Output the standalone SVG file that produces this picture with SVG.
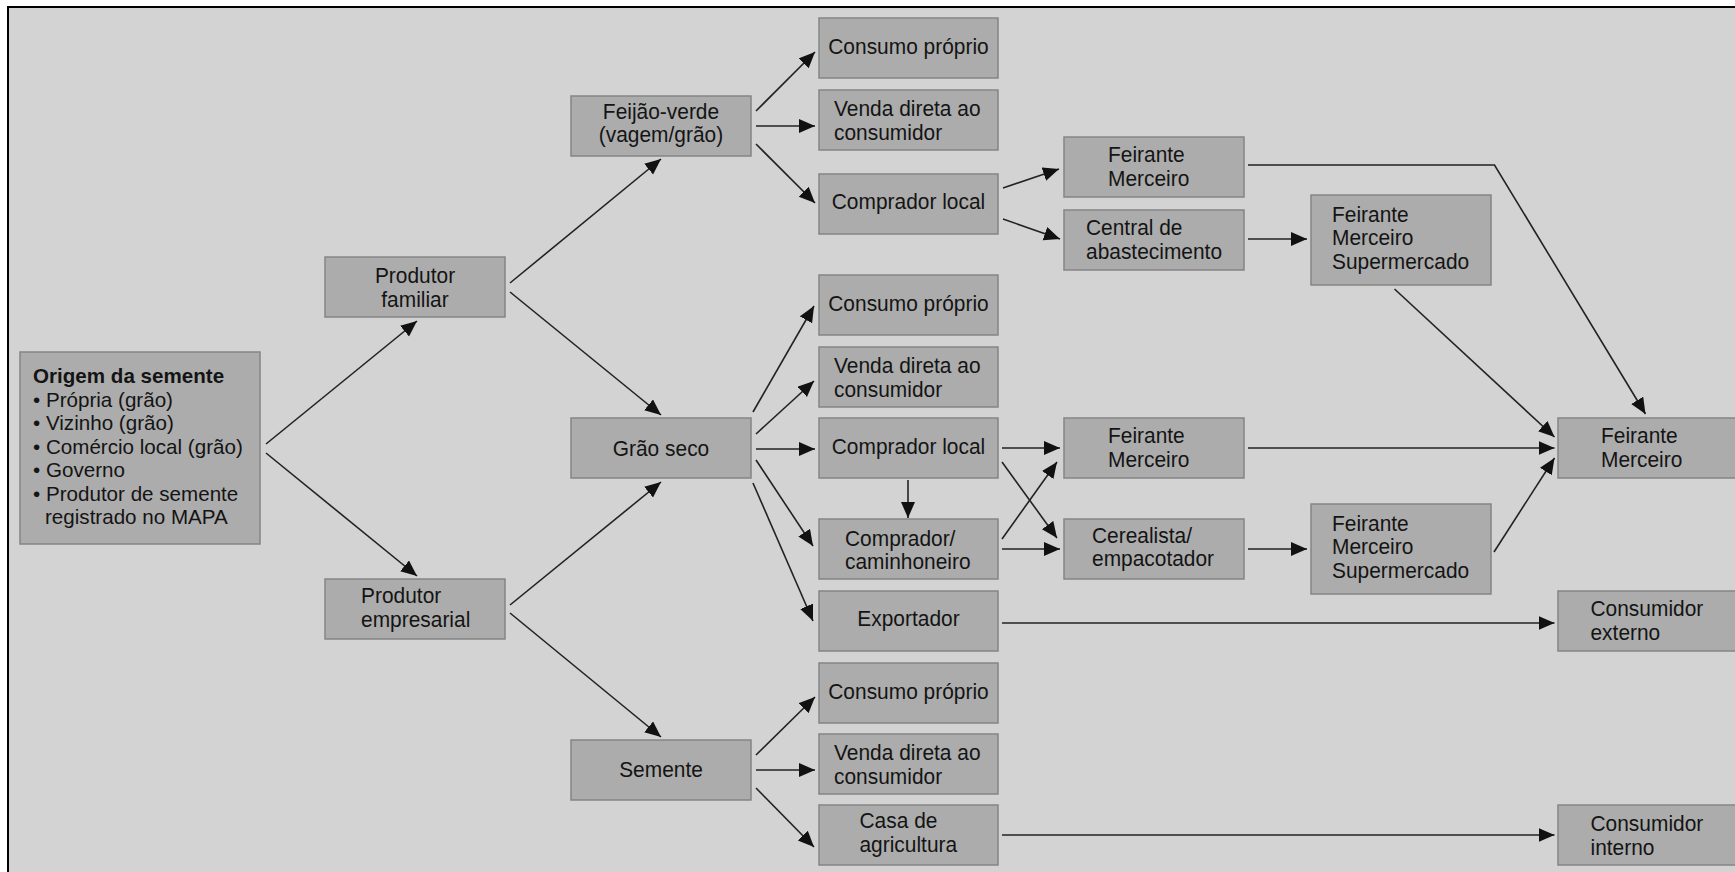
<svg xmlns="http://www.w3.org/2000/svg" width="1735" height="872" viewBox="0 0 1735 872">
<defs>
<style>
.n rect{fill:#acacac;stroke:#858585;stroke-width:1.5}
text{font-family:"Liberation Sans",Arial,sans-serif;font-size:22.5px;fill:#141414}
.o text{font-size:20.6px}
.m{text-anchor:middle}
.b{font-weight:bold}
#connectors line,#connectors polyline{stroke:#222;stroke-width:1.6;fill:none;marker-end:url(#ah)}
</style>
<marker id="ah" markerUnits="userSpaceOnUse" markerWidth="17" markerHeight="15" refX="16" refY="7" orient="auto">
<path d="M0,0 L16,7 L0,14 z" fill="#111"/>
</marker>
</defs>
<rect x="0" y="0" width="1735" height="872" fill="#fff"/>
<rect x="8" y="7" width="1740" height="880" fill="#d3d3d3" stroke="#000" stroke-width="2"/>

<g id="connectors">
<line x1="266" y1="444" x2="417" y2="321"/>
<line x1="266" y1="453" x2="417" y2="576"/>
<line x1="510" y1="283" x2="661" y2="159"/>
<line x1="510" y1="292" x2="661" y2="415"/>
<line x1="510" y1="605" x2="661" y2="482"/>
<line x1="510" y1="613" x2="661" y2="737"/>
<line x1="756" y1="111" x2="815" y2="52"/>
<line x1="756" y1="126" x2="815" y2="126"/>
<line x1="756" y1="144" x2="815" y2="203"/>
<line x1="753" y1="412" x2="814" y2="306"/>
<line x1="756" y1="434" x2="814" y2="381"/>
<line x1="756" y1="449" x2="815" y2="449"/>
<line x1="756" y1="460" x2="813" y2="546"/>
<line x1="753" y1="483" x2="813" y2="621"/>
<line x1="756" y1="755" x2="815" y2="697"/>
<line x1="756" y1="770" x2="815" y2="770"/>
<line x1="756" y1="788" x2="814" y2="847"/>
<line x1="1003" y1="188" x2="1059" y2="169"/>
<line x1="1003" y1="219" x2="1060" y2="239"/>
<line x1="908" y1="480" x2="908" y2="518"/>
<line x1="1002" y1="448" x2="1060" y2="448"/>
<line x1="1002" y1="462" x2="1057" y2="538"/>
<line x1="1002" y1="539" x2="1057" y2="462"/>
<line x1="1002" y1="549" x2="1060" y2="549"/>
<line x1="1248" y1="239" x2="1307" y2="239"/>
<line x1="1248" y1="549" x2="1307" y2="549"/>
<polyline points="1248,165 1494.5,165 1645.5,414"/>
<line x1="1394.5" y1="289" x2="1554.5" y2="437"/>
<line x1="1248" y1="448" x2="1554.5" y2="448"/>
<line x1="1494" y1="552" x2="1554.5" y2="458"/>
<line x1="1002" y1="623" x2="1554.5" y2="623"/>
<line x1="1002" y1="835" x2="1554.5" y2="835"/>
</g>

<g id="origem" class="n o"><rect x="20" y="352" width="240" height="192"/>
<text x="33" y="383" class="b">Origem da semente</text>
<text x="33" y="406.5">• Própria (grão)</text>
<text x="33" y="430">• Vizinho (grão)</text>
<text x="33" y="453.5">• Comércio local (grão)</text>
<text x="33" y="477">• Governo</text>
<text x="33" y="500.5">• Produtor de semente</text>
<text x="45" y="524">registrado no MAPA</text></g>

<g id="produtor-familiar" class="n"><rect x="325" y="257" width="180" height="60"/>
<text x="415" y="283" class="m" transform="matrix(0.93 0 0 1 29.05 0)">Produtor</text><text x="415" y="307" class="m" transform="matrix(0.93 0 0 1 29.05 0)">familiar</text></g>
<g id="produtor-empresarial" class="n"><rect x="325" y="579" width="180" height="60"/>
<text x="361" y="603" transform="matrix(0.93 0 0 1 25.27 0)">Produtor</text><text x="361" y="627" transform="matrix(0.93 0 0 1 25.27 0)">empresarial</text></g>

<g id="feijao-verde" class="n"><rect x="571" y="96" width="180" height="60"/>
<text x="661" y="119.5" class="m" transform="matrix(0.93 0 0 1 46.27 0)">Feijão-verde</text><text x="661" y="142" class="m" transform="matrix(0.93 0 0 1 46.27 0)">(vagem/grão)</text></g>
<g id="grao-seco" class="n"><rect x="571" y="418" width="180" height="60"/>
<text x="661" y="456" class="m" transform="matrix(0.93 0 0 1 46.27 0)">Grão seco</text></g>
<g id="semente" class="n"><rect x="571" y="740" width="180" height="60"/>
<text x="661" y="777" class="m" transform="matrix(0.93 0 0 1 46.27 0)">Semente</text></g>

<g id="consumo-proprio-1" class="n"><rect x="819" y="18" width="179" height="60"/>
<text x="908.5" y="54.5" class="m" transform="matrix(0.93 0 0 1 63.595 0)">Consumo próprio</text></g>
<g id="venda-direta-1" class="n"><rect x="819" y="90" width="179" height="60"/>
<text x="834" y="116" transform="matrix(0.93 0 0 1 58.38 0)">Venda direta ao</text><text x="834" y="140" transform="matrix(0.93 0 0 1 58.38 0)">consumidor</text></g>
<g id="comprador-local-1" class="n"><rect x="819" y="174" width="179" height="60"/>
<text x="908.5" y="209.5" class="m" transform="matrix(0.93 0 0 1 63.595 0)">Comprador local</text></g>

<g id="consumo-proprio-2" class="n"><rect x="819" y="275" width="179" height="60"/>
<text x="908.5" y="311.5" class="m" transform="matrix(0.93 0 0 1 63.595 0)">Consumo próprio</text></g>
<g id="venda-direta-2" class="n"><rect x="819" y="347" width="179" height="60"/>
<text x="834" y="373" transform="matrix(0.93 0 0 1 58.38 0)">Venda direta ao</text><text x="834" y="397" transform="matrix(0.93 0 0 1 58.38 0)">consumidor</text></g>
<g id="comprador-local-2" class="n"><rect x="819" y="418" width="179" height="60"/>
<text x="908.5" y="454.5" class="m" transform="matrix(0.93 0 0 1 63.595 0)">Comprador local</text></g>
<g id="comprador-caminhoneiro" class="n"><rect x="819" y="519" width="179" height="60"/>
<text x="845" y="546" transform="matrix(0.93 0 0 1 59.15 0)">Comprador/</text><text x="845" y="569.5" transform="matrix(0.93 0 0 1 59.15 0)">caminhoneiro</text></g>
<g id="exportador" class="n"><rect x="819" y="591" width="179" height="60"/>
<text x="908.5" y="626" class="m" transform="matrix(0.93 0 0 1 63.595 0)">Exportador</text></g>

<g id="consumo-proprio-3" class="n"><rect x="819" y="663" width="179" height="60"/>
<text x="908.5" y="699" class="m" transform="matrix(0.93 0 0 1 63.595 0)">Consumo próprio</text></g>
<g id="venda-direta-3" class="n"><rect x="819" y="734" width="179" height="60"/>
<text x="834" y="760" transform="matrix(0.93 0 0 1 58.38 0)">Venda direta ao</text><text x="834" y="784" transform="matrix(0.93 0 0 1 58.38 0)">consumidor</text></g>
<g id="casa-agricultura" class="n"><rect x="819" y="805" width="179" height="60"/>
<text x="859.5" y="828.5" transform="matrix(0.93 0 0 1 60.165 0)">Casa de</text><text x="859.5" y="852.5" transform="matrix(0.93 0 0 1 60.165 0)">agricultura</text></g>

<g id="feirante-merceiro-1" class="n"><rect x="1064" y="137" width="180" height="60"/>
<text x="1108" y="162.5" transform="matrix(0.93 0 0 1 77.56 0)">Feirante</text><text x="1108" y="186.5" transform="matrix(0.93 0 0 1 77.56 0)">Merceiro</text></g>
<g id="central-abastecimento" class="n"><rect x="1064" y="210" width="180" height="60"/>
<text x="1086" y="235.5" transform="matrix(0.93 0 0 1 76.02 0)">Central de</text><text x="1086" y="259.5" transform="matrix(0.93 0 0 1 76.02 0)">abastecimento</text></g>
<g id="feirante-merceiro-2" class="n"><rect x="1064" y="418" width="180" height="60"/>
<text x="1108" y="443" transform="matrix(0.93 0 0 1 77.56 0)">Feirante</text><text x="1108" y="467" transform="matrix(0.93 0 0 1 77.56 0)">Merceiro</text></g>
<g id="cerealista" class="n"><rect x="1064" y="519" width="180" height="60"/>
<text x="1092" y="543" transform="matrix(0.93 0 0 1 76.44 0)">Cerealista/</text><text x="1092" y="566.5" transform="matrix(0.93 0 0 1 76.44 0)">empacotador</text></g>

<g id="fms-1" class="n"><rect x="1311" y="195" width="180" height="90"/>
<text x="1332" y="222" transform="matrix(0.93 0 0 1 93.24 0)">Feirante</text><text x="1332" y="245.5" transform="matrix(0.93 0 0 1 93.24 0)">Merceiro</text><text x="1332" y="269" transform="matrix(0.93 0 0 1 93.24 0)">Supermercado</text></g>
<g id="fms-2" class="n"><rect x="1311" y="504" width="180" height="90"/>
<text x="1332" y="531" transform="matrix(0.93 0 0 1 93.24 0)">Feirante</text><text x="1332" y="554.5" transform="matrix(0.93 0 0 1 93.24 0)">Merceiro</text><text x="1332" y="578" transform="matrix(0.93 0 0 1 93.24 0)">Supermercado</text></g>

<g id="feirante-merceiro-final" class="n"><rect x="1558" y="418" width="180" height="60"/>
<text x="1601" y="443" transform="matrix(0.93 0 0 1 112.07 0)">Feirante</text><text x="1601" y="467" transform="matrix(0.93 0 0 1 112.07 0)">Merceiro</text></g>
<g id="consumidor-externo" class="n"><rect x="1558" y="591" width="180" height="60"/>
<text x="1590.5" y="616" transform="matrix(0.93 0 0 1 111.335 0)">Consumidor</text><text x="1590.5" y="640" transform="matrix(0.93 0 0 1 111.335 0)">externo</text></g>
<g id="consumidor-interno" class="n"><rect x="1558" y="805" width="180" height="60"/>
<text x="1590.5" y="831" transform="matrix(0.93 0 0 1 111.335 0)">Consumidor</text><text x="1590.5" y="855" transform="matrix(0.93 0 0 1 111.335 0)">interno</text></g>
</svg>
